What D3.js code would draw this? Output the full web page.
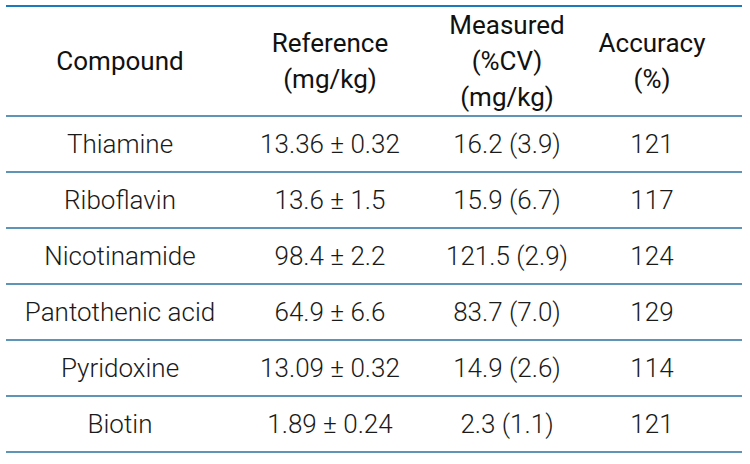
<!DOCTYPE html>
<html>
<head>
<meta charset="utf-8">
<script src="https://cdn.jsdelivr.net/npm/d3@7"></script>
<style>
  body { margin: 0; background: #fff; }
  svg text { font-family: Roboto, "Noto Sans", sans-serif; }
</style>
</head>
<body>
<div id="table"></div>
<script>
// table contents
var headers = [
  ["Compound"],
  ["Reference", "(mg/kg)"],
  ["Measured", "(%CV)", "(mg/kg)"],
  ["Accuracy", "(%)"]
];
var compounds = ["Thiamine", "Riboflavin", "Nicotinamide", "Pantothenic acid", "Pyridoxine", "Biotin"];
var reference = ["13.36 ± 0.32", "13.6 ± 1.5", "98.4 ± 2.2", "64.9 ± 6.6", "13.09 ± 0.32", "1.89 ± 0.24"];
var measured = ["16.2 (3.9)", "15.9 (6.7)", "121.5 (2.9)", "83.7 (7.0)", "14.9 (2.6)", "2.3 (1.1)"];
var accuracy = ["121", "117", "124", "129", "114", "121"];

var width = 750,
    height = 464,
    left = 6,
    right = 742,
    top_y = 6,
    header_h = 110,
    row_h = 56,
    line_gap = 36,
    font_size = "26px",
    top_color = "#1b7abb",
    rule_color = "#5e95b6";

var col_centers = [120, 330, 507, 652];

var svg = d3.select("#table").append("svg")
  .attr("width", width)
  .attr("height", height);

var rows = compounds.map(function(c, i) {
  return [c, reference[i], measured[i], accuracy[i]];
});

var y = d3.scaleBand()
  .domain(d3.range(rows.length))
  .range([top_y + header_h, top_y + header_h + row_h * rows.length]);

// header
var head = svg.append("g").attr("class", "header");
headers.forEach(function(lines, ci) {
  var mid = top_y + header_h / 2;
  var start = mid - (lines.length - 1) * line_gap / 2;
  lines.forEach(function(t, li) {
    head.append("text")
      .attr("x", col_centers[ci])
      .attr("y", start + li * line_gap)
      .attr("dy", "0.35em")
      .attr("text-anchor", "middle")
      .style("font-size", font_size)
      .style("font-weight", 400)
      .style("fill", "#111")
      .text(t);
  });
});

// body rows
var row = svg.selectAll("g.row")
  .data(rows)
  .enter().append("g")
  .attr("class", "row")
  .attr("transform", function(d, i) { return "translate(0," + (y(i) + y.bandwidth() / 2) + ")"; });

row.selectAll("text")
  .data(function(d) { return d; })
  .enter().append("text")
  .attr("x", function(d, i) { return col_centers[i]; })
  .attr("dy", "0.35em")
  .attr("text-anchor", "middle")
  .style("font-size", font_size)
  .style("font-weight", 300)
  .style("fill", "#1a1a1a")
  .text(function(d) { return d; });

// rules
var rule_ys = [top_y, top_y + header_h].concat(d3.range(1, rows.length + 1).map(function(i) {
  return y(i - 1) + y.bandwidth();
}));

svg.selectAll("line.rule")
  .data(rule_ys)
  .enter().append("line")
  .attr("class", "rule")
  .attr("x1", left)
  .attr("x2", right)
  .attr("y1", function(d) { return d; })
  .attr("y2", function(d) { return d; })
  .style("stroke", function(d, i) { return i === 0 ? top_color : rule_color; })
  .style("stroke-width", 2);
</script>
</body>
</html>
